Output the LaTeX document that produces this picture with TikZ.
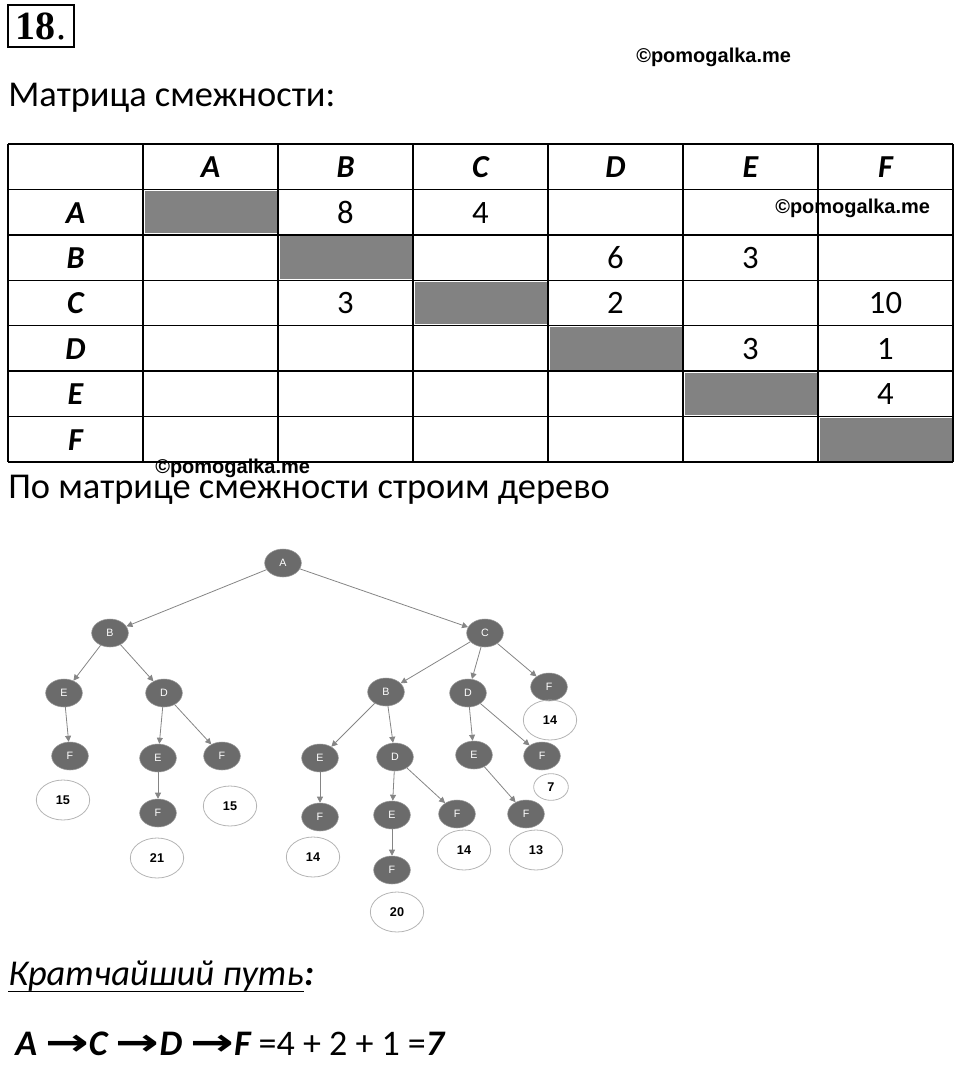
\documentclass[tikz,border=0pt]{standalone}
\usepackage{fontspec}
\setmainfont{Carlito}
\newfontfamily\wmfont{Liberation Sans}
\newfontfamily\numfont{Liberation Serif}
\newfontfamily\arrfont{DejaVu Sans}
\usetikzlibrary{shapes.geometric,arrows.meta}
\definecolor{vtxgray}{HTML}{6B6B6B}
\definecolor{linkgray}{HTML}{858585}
\definecolor{cellgray}{HTML}{828282}
\definecolor{costgray}{HTML}{B4B4B4}
\newcommand\arr{\scalebox{1.45}[1.05]{\arrfont\bfseries\upshape →}}
\tikzset{
  vtx/.style={ellipse, fill=vtxgray, draw=white!60!black, line width=0.4pt,
    minimum width=27.5pt, minimum height=21pt, inner sep=0pt, text=white,
    font=\wmfont\fontsize{8}{8}\selectfont},
  cost/.style={ellipse, draw=costgray, line width=0.6pt, minimum width=40pt,
    minimum height=30pt, inner sep=0pt, font=\wmfont\bfseries\fontsize{9.5}{10}\selectfont},
  link/.style={draw=linkgray, line width=0.6pt, -{Triangle[length=4.5pt,width=4.5pt]}},
  wm/.style={font=\wmfont\bfseries\fontsize{15}{15}\selectfont, inner sep=0pt},
  colhead/.style={font=\bfseries\itshape\fontsize{24}{24}\selectfont,
    text height=16pt, text depth=0pt, inner sep=0pt},
  cellval/.style={font=\fontsize{24.5}{24}\selectfont,
    text height=16pt, text depth=0pt, inner sep=0pt},
  bigtext/.style={anchor=base west, inner sep=0pt, font=\fontsize{27.3}{28}\selectfont},
}
\begin{document}
\begin{tikzpicture}[x=0.75pt, y=-0.75pt]
  \useasboundingbox (0,0) rectangle (960,1066);

  % task number
  \node[draw, line width=1.2pt, minimum width=49.5pt, minimum height=31.5pt, inner sep=0pt,
    font=\numfont\fontsize{30}{30}\selectfont] (num) at (41,26) {\textbf{18}.};
  \node[wm, anchor=west] (wm-top) at (636,57) {©pomogalka.me};
  \node[bigtext] (title) at (8,107) {Матрица смежности:};

  % adjacency matrix
  \foreach \k in {1,...,6}
    \fill[cellgray] ({8+135*\k+1.5},{144+45.43*\k+1.5}) rectangle ({143+135*\k-1.5},{189.43+45.43*\k-1.5});
  \foreach \i in {0,...,7}
    \draw[line width=1.1pt] (8,{144+45.43*\i}) -- (953,{144+45.43*\i});
  \foreach \j in {0,...,7}
    \draw[line width=1.1pt] ({8+135*\j},144) -- ({8+135*\j},462);
  \foreach \n [count=\k] in {A,B,C,D,E,F} {
    \node[colhead] (col-\n) at ({75.5+135*\k},167) {\n};
    \node[colhead] (row-\n) at (75.5,{167+45.43*\k}) {\n};
  }
  \foreach \r/\c/\v in {A/B/8, A/C/4, B/D/6, B/E/3, C/B/3, C/D/2, C/F/10, D/E/3, D/F/1, E/F/4}
    \node[cellval] (w-\r\c) at (col-\c |- row-\r) {\v};
  \node[wm, anchor=west] (wm-mid) at (775,208) {©pomogalka.me};
  \node[wm, anchor=west] (wm-low) at (155,468) {©pomogalka.me};

  \node[bigtext] (caption) at (8,498) {По матрице смежности строим дерево};

  % tree of paths
  \node[vtx] (A) at (283,563) {A};
  \node[vtx] (B) at (110,633) {B};
  \node[vtx] (C) at (485,633) {C};
  \node[vtx] (BE) at (64,693) {E};
  \node[vtx] (BD) at (164,693) {D};
  \node[vtx] (BEF) at (70,756) {F};
  \node[vtx] (BDE) at (158,758) {E};
  \node[vtx] (BDF) at (222,756) {F};
  \node[vtx] (BDEF) at (158,813) {F};
  \node[vtx] (CB) at (386,692) {B};
  \node[vtx] (CD) at (468,693) {D};
  \node[vtx] (CF) at (549,687) {F};
  \node[vtx] (CBE) at (320,758) {E};
  \node[vtx] (CBD) at (395,757) {D};
  \node[vtx] (CDE) at (474,755) {E};
  \node[vtx] (CDF) at (542,756) {F};
  \node[vtx] (CBEF) at (320,817) {F};
  \node[vtx] (CBDE) at (392,815) {E};
  \node[vtx] (CBDF) at (457,814) {F};
  \node[vtx] (CDEF) at (526,814) {F};
  \node[vtx] (CBDEF) at (392,870) {F};

  % path lengths
  \node[cost] (s1) at (63,800) {15};
  \node[cost] (s2) at (230,806) {15};
  \node[cost] (s3) at (157,858) {21};
  \node[cost] (s4) at (550,720) {14};
  \node[cost, minimum width=26pt, minimum height=20pt] (s5) at (551,787) {7};
  \node[cost] (s6) at (313,857) {14};
  \node[cost] (s7) at (464,850) {14};
  \node[cost] (s8) at (536,850) {13};
  \node[cost] (s9) at (397,912) {20};

  \foreach \u/\v in {A/B, A/C, B/BE, B/BD, BE/BEF, BD/BDE, BD/BDF, BDE/BDEF,
      C/CB, C/CD, C/CF, CB/CBE, CB/CBD, CD/CDE, CD/CDF, CBE/CBEF,
      CBD/CBDE, CBD/CBDF, CDE/CDEF, CBDE/CBDEF}
    \draw[link] (\u) -- (\v);

  % answer
  \node[bigtext] (short) at (8,985) {\itshape Кратчайший путь};
  \node[bigtext, anchor=base west] (colon) at (short.base east) {\bfseries\itshape :};
  \draw[line width=1pt] ([yshift=-5pt]short.base west) -- ([yshift=-5pt]short.base east);
  \node[bigtext, font=\fontsize{27}{27}\selectfont] (answer) at (15,1055)
    {{\bfseries\itshape A \arr C \arr D \arr F} =4 + 2 + 1 ={\bfseries\itshape 7}};
\end{tikzpicture}
\end{document}
